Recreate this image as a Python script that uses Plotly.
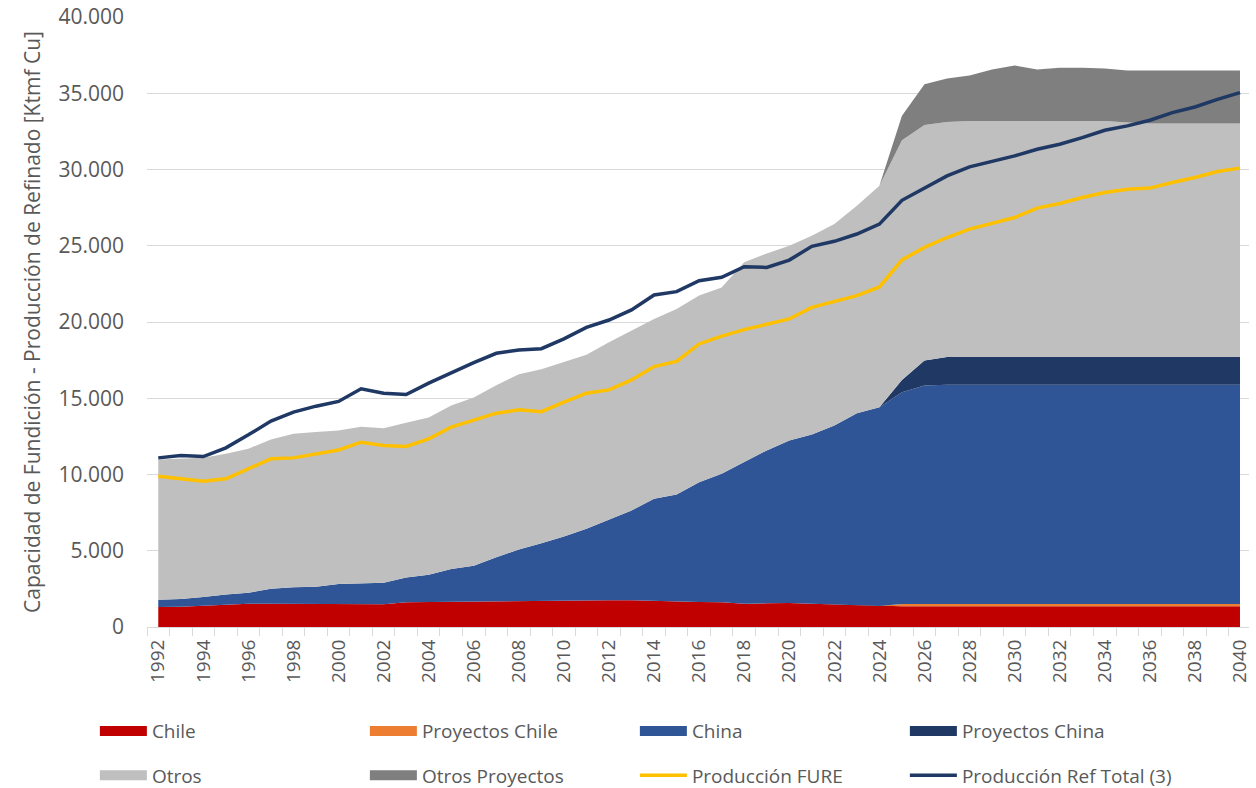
import plotly.graph_objects as go

years = list(range(1992, 2041))

chile = [1310, 1320, 1400, 1460, 1530, 1530, 1520, 1510, 1510, 1510, 1500, 1620, 1640, 1640, 1650, 1660,
         1680, 1700, 1750, 1770, 1750, 1750, 1700, 1680, 1640, 1620, 1530, 1550, 1570, 1530, 1490, 1420,
         1380] + [1360] * 16
proyectos_chile = [0] * 33 + [150] * 16
china = [480, 510, 560, 670, 710, 980, 1080, 1130, 1310, 1370, 1400, 1630, 1790, 2160, 2370, 2910,
         3410, 3800, 4190, 4670, 5280, 5890, 6710, 7010, 7860, 8430, 9290, 10030, 10660, 11090, 11720, 12600,
         13030, 13880, 14320] + [14380] * 14
proyectos_china = [0] * 33 + [810, 1640] + [1820] * 14
otros = [9190, 9220, 9140, 9230, 9450, 9790, 10070, 10140, 10070, 10250, 10140, 10140, 10310, 10720, 11030, 11290,
         11490, 11400, 11420, 11420, 11640, 11790, 11790, 12160, 12230, 12220, 13090, 12920, 12770, 13040, 13210, 13600,
         14520, 15720, 15450, 15400, 15470, 15470, 15470, 15470, 15470, 15470, 15470, 15380, 15300, 15300, 15300, 15300,
         15300]
otros_proyectos = [0] * 33 + [1600, 2670, 2860, 2990, 3380, 3640, 3380, 3490, 3490, 3450, 3410, 3490, 3490, 3490,
                              3490, 3490]
produccion_fure = [9890, 9740, 9560, 9720, 10370, 11030, 11090, 11350, 11610, 12120, 11900, 11840, 12340, 13110, 13540, 14020,
                   14240, 14120, 14740, 15330, 15550, 16200, 17080, 17410, 18560, 19070, 19500, 19830, 20200, 20960, 21360, 21730,
                   22300, 24070, 24890, 25540, 26090, 26460, 26850, 27470, 27770, 28160, 28490, 28710, 28780, 29150, 29480, 29870,
                   30090]
produccion_ref_total = [11090, 11240, 11180, 11750, 12600, 13500, 14090, 14480, 14790, 15620, 15330, 15240, 15990, 16690, 17340, 17950,
                        18170, 18250, 18890, 19650, 20130, 20790, 21770, 21990, 22710, 22930, 23630, 23580, 24060, 24960, 25290, 25770,
                        26420, 27980, 28770, 29580, 30170, 30520, 30890, 31330, 31660, 32090, 32570, 32860, 33230, 33730, 34100, 34600,
                        35040]

areas = [
    ("Chile", chile, "#C00000", "legend"),
    ("Proyectos Chile", proyectos_chile, "#ED7D31", "legend"),
    ("China", china, "#2F5597", "legend"),
    ("Proyectos China", proyectos_china, "#203864", "legend"),
    ("Otros", otros, "#BFBFBF", "legend2"),
    ("Otros Proyectos", otros_proyectos, "#7F7F7F", "legend2"),
]

fig = go.Figure()
for name, vals, color, lg in areas:
    fig.add_trace(go.Scatter(
        x=years, y=vals, name=name, mode="lines", stackgroup="cap",
        line=dict(width=0, color=color), fillcolor=color, legend=lg,
        legendgroup=name, showlegend=False,
    ))
# legend swatches (rectangles) for the stacked areas
for name, vals, color, lg in areas:
    fig.add_trace(go.Scatter(
        x=[None], y=[None], name=name, mode="lines",
        line=dict(width=14, color=color), legend=lg, legendgroup=name, showlegend=True,
        hoverinfo="skip",
    ))

fig.add_trace(go.Scatter(x=years, y=produccion_fure, name="Producción FURE", mode="lines",
                         line=dict(color="#FFC000", width=3.5), legend="legend2"))
fig.add_trace(go.Scatter(x=years, y=produccion_ref_total, name="Producción Ref Total (3)", mode="lines",
                         line=dict(color="#1F3864", width=3.5), legend="legend2"))

txt = "#595959"
leg_common = dict(
    orientation="h", x=-0.0473, xanchor="left", yanchor="top",
    entrywidth=208, entrywidthmode="pixels", itemwidth=47,
    font=dict(size=19, color=txt, family="Open Sans"),
    traceorder="normal", bgcolor="rgba(0,0,0,0)",
)

fig.update_layout(
    width=1256, height=788,
    margin=dict(l=147, r=7, t=17, b=161, autoexpand=False),
    paper_bgcolor="white", plot_bgcolor="white",
    separators=",.",
    font=dict(family="Open Sans", color=txt),
    showlegend=True,
    legend=dict(y=-0.1395, **leg_common),
    legend2=dict(y=-0.212, **leg_common),
    xaxis=dict(
        range=[1991.5, 2040.4],
        tickmode="linear", tick0=1992, dtick=2,
        tickangle=-90, tickfont=dict(size=19, color=txt),
        ticks="", showgrid=False, ticklabelstandoff=4,
        showline=True, linecolor="#D9D9D9", linewidth=1,
        minor=dict(tick0=1991.5, dtick=1, ticks="outside", ticklen=8, tickcolor="#D9D9D9", showgrid=False),
        zeroline=False,
    ),
    yaxis=dict(
        range=[0, 40000], tickmode="linear", tick0=0, dtick=5000,
        tickformat=",d",
        tickfont=dict(size=21, color=txt),
        showgrid=True, gridcolor="#D9D9D9", gridwidth=1,
        zeroline=False, showline=False, ticks="",
        ticklabelstandoff=22,
        title=dict(text="Capacidad de Fundición - Producción de Refinado [Ktmf Cu]",
                   font=dict(size=21, color=txt), standoff=12),
    ),
)

fig.write_html(
    "out.html",
    config={"displayModeBar": False},
    post_script="document.body.style.margin='0';document.body.style.overflow='hidden';",
)
